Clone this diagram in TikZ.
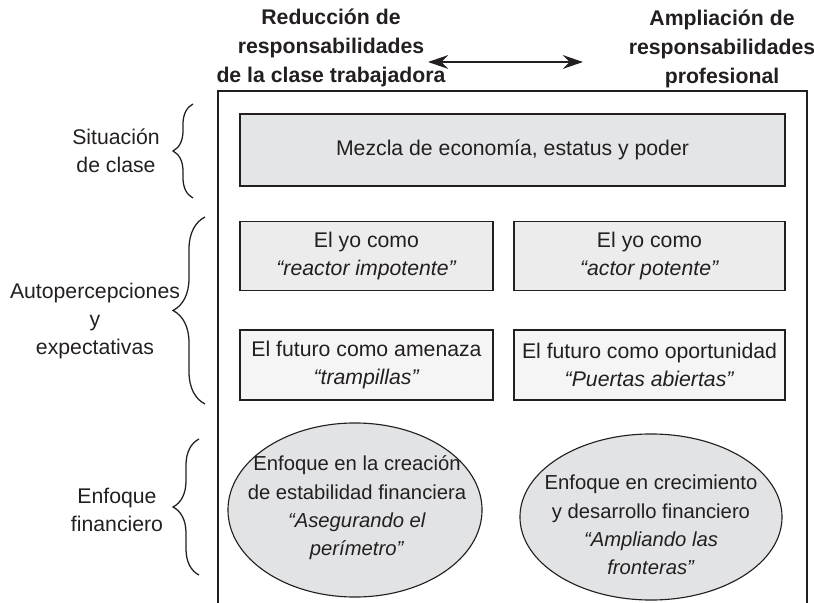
\documentclass[tikz,border=0pt]{standalone}
\usepackage{fontspec}
\setmainfont{Liberation Sans}
\usetikzlibrary{arrows.meta,shapes.geometric,decorations.pathreplacing}
\definecolor{ink}{HTML}{231F20}
\definecolor{fillA}{HTML}{E4E5E7}
\definecolor{fillB}{HTML}{ECECED}
\definecolor{fillC}{HTML}{F5F5F5}
\definecolor{fillD}{HTML}{E2E3E5}
\begin{document}
\begin{tikzpicture}[x=0.025cm,y=-0.025cm,
  every node/.style={text=ink,align=center,font=\fontsize{15.1}{19.6}\selectfont},
  head/.style={font=\bfseries\fontsize{15.1}{20.9}\selectfont},
  ovaltext/.style={font=\fontsize{14.4}{20.2}\selectfont},
  box/.style={draw=ink,line width=1pt,rectangle,inner sep=0pt},
  oval/.style={draw=ink,line width=0.8pt,ellipse,fill=fillD,inner sep=0pt},
  curly/.style={draw=ink,line width=0.9pt,decorate,decoration={brace,amplitude=#1}}]
\useasboundingbox (0,0) rectangle (814,603);
% headings and the arrow between them
\node[head] (hdl) at (331,48) {Reducción de\\responsabilidades\\de la clase trabajadora};
\node[head] (hdr) at (722,49) {Ampliación de\\responsabilidades\\profesional};
\coordinate (aw) at (428,62);
\coordinate (ae) at (583,62);
\draw[ink,line width=1.8pt,{Stealth[length=0.5cm,width=0.34cm]}-{Stealth[length=0.5cm,width=0.34cm]}] (aw) -- (ae);
% open frame
\draw[ink,line width=1.4pt] (218,603) -- (218,91) -- (807,91) -- (807,603);
% boxes
\node[box,fill=fillA,minimum width=13.625cm,minimum height=1.8cm] (clase) at (512.5,150) {Mezcla de economía, estatus y poder};
\node[box,fill=fillB,minimum width=6.325cm,minimum height=1.72cm] (yoimp) at (366.5,256) {El yo como\\\textit{“reactor impotente”}};
\node[box,fill=fillB,minimum width=6.775cm,minimum height=1.72cm] (yopot) at (649.5,256) {El yo como\\\textit{“actor potente”}};
\node[box,fill=fillC,minimum width=6.325cm,minimum height=1.75cm] (amenaza) at (366.5,365) {El futuro como amenaza\\\textit{“trampillas”}};
\node[box,fill=fillC,minimum width=6.775cm,minimum height=1.75cm] (oport) at (649.5,365) {El futuro como oportunidad\\\textit{“Puertas abiertas”}};
% ellipses
\node[oval,minimum width=6.35cm,minimum height=4.35cm] (estab) at (355,510) {};
\node[oval,minimum width=6.55cm,minimum height=4.15cm] (crec) at (651,517) {};
\node[ovaltext] (estabtxt) at (357,508) {Enfoque en la creación\\de estabilidad financiera\\\textit{“Asegurando el}\\\textit{perímetro”}};
\node[ovaltext] (crectxt) at (651,525) {Enfoque en crecimiento\\y desarrollo financiero\\\textit{“Ampliando las}\\\textit{fronteras”}};
% row labels and braces
\node (lbclase) at (116,151) {Situación\\de clase};
\node (lbauto) at (95,321) {Autopercepciones\\y\\expectativas};
\node (lbfin) at (117,510) {Enfoque\\financiero};
\draw[curly=0.5cm] (193,198) -- (193,104);
\draw[curly=0.8cm] (205,404) -- (205,217);
\draw[curly=0.65cm] (199,575) -- (199,439);
\end{tikzpicture}
\end{document}
